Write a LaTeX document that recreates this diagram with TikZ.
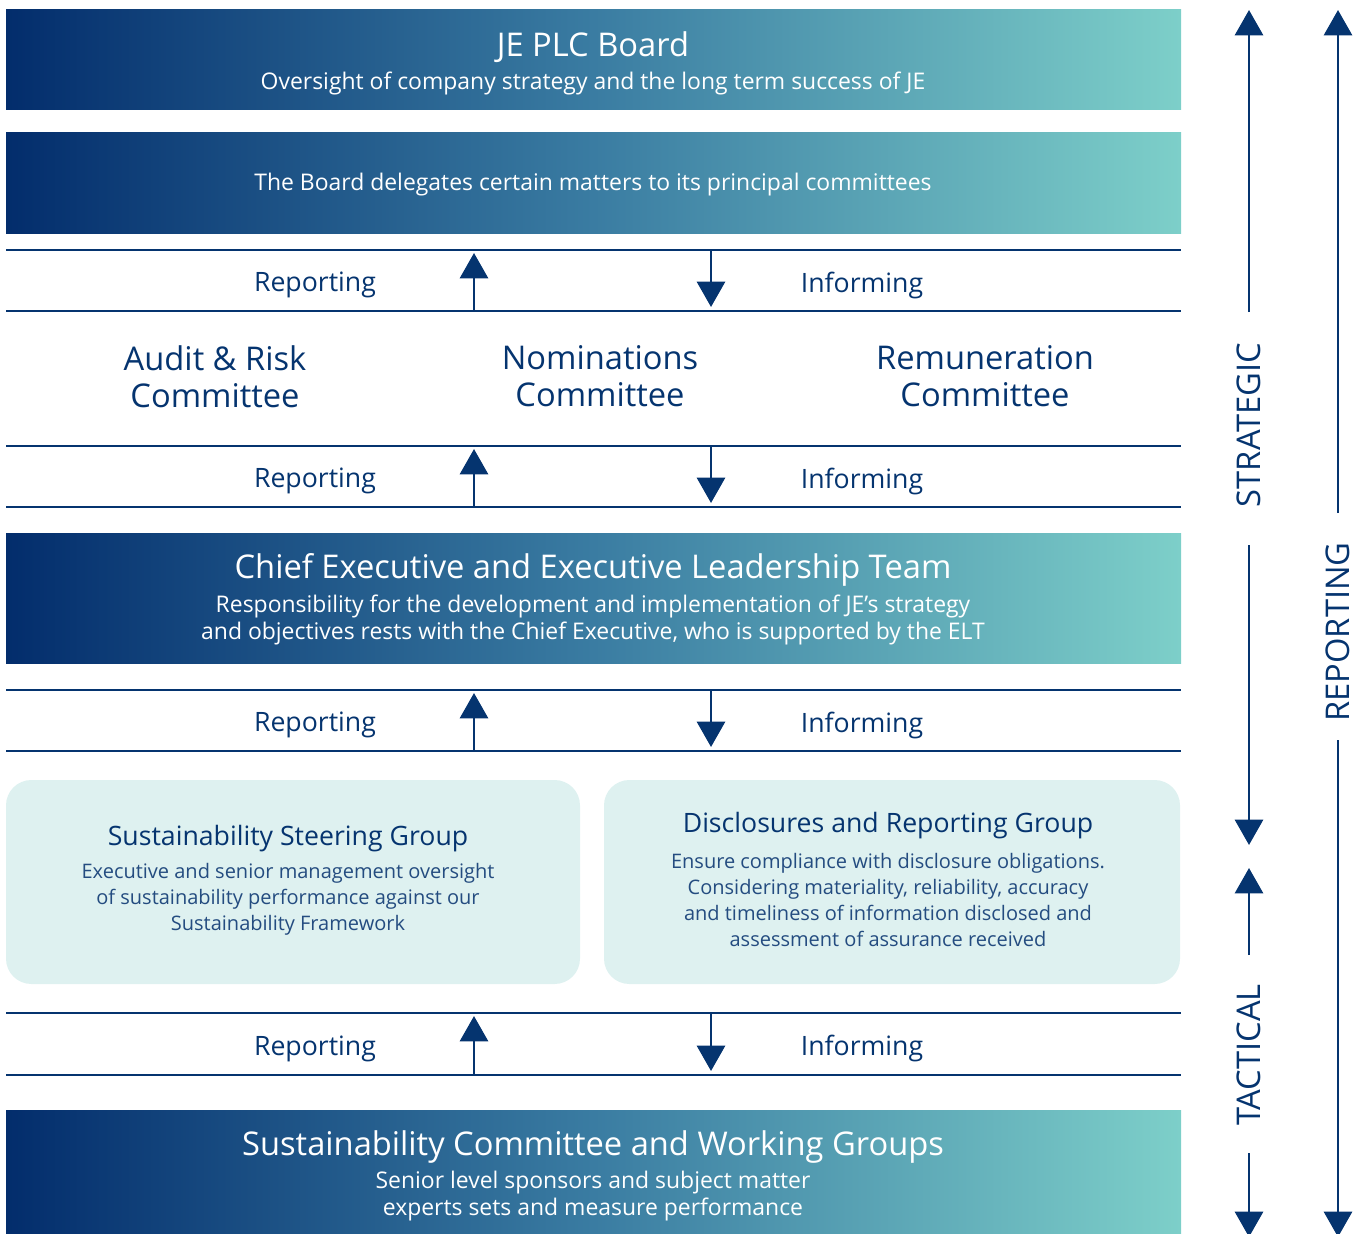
\documentclass[tikz,border=0pt]{standalone}
\usepackage{fontspec}
\setmainfont{Open Sans}
\usetikzlibrary{arrows.meta}
\definecolor{navy}{HTML}{05346F}
\definecolor{gradL}{HTML}{032D6C}
\definecolor{gradM}{HTML}{3A7CA2}
\definecolor{gradR}{HTML}{7DCFC9}
\definecolor{panel}{HTML}{DEF1F0}
\definecolor{bodytxt}{HTML}{244C80}
\begin{document}
\begin{tikzpicture}[x=0.75pt,y=-0.75pt,
  gbox/.style={left color=gradL, right color=gradR, middle color=gradM, draw=none},
  wtitle/.style={text=white, inner sep=0pt, align=center, font=\fontsize{24.5}{28}\selectfont},
  wsub/.style={text=white, inner sep=0pt, align=center, font=\fontsize{17.2}{20.25}\selectfont},
  bandtxt/.style={text=navy, inner sep=0pt, font=\fontsize{20}{24}\selectfont},
  cmte/.style={text=navy, inner sep=0pt, align=center, font=\fontsize{24.5}{27.75}\selectfont},
  ptitle/.style={text=navy, inner sep=0pt, align=center, font=\fontsize{20}{23}\selectfont},
  pbody/.style={text=bodytxt, inner sep=0pt, align=center, font=\fontsize{15}{19.6}\selectfont},
  side/.style={text=navy, inner sep=0pt, rotate=90, font=\fontsize{24.5}{26}\selectfont},
  bandline/.style={draw=navy, line width=2pt},
  arr/.style={draw=navy, line width=2.2pt, -{Triangle[width=21pt,length=19pt]}},
  sarr/.style={draw=navy, line width=2.2pt, -{Triangle[width=21pt,length=19pt]}}
]
\useasboundingbox (0,0) rectangle (1360,1234);

% gradient boxes
\shade[gbox] (6,10) rectangle (1181,110);
\shade[gbox] (6,133) rectangle (1181,233);
\shade[gbox] (6,533) rectangle (1181,663);
\shade[gbox] (6,1110) rectangle (1181,1236);

\node[wtitle] (board) at (593,47) {JE PLC Board};
\node[wsub] (boardsub) at (593,83) {Oversight of company strategy and the long term success of JE};
\node[wsub] (deleg) at (593,185) {The Board delegates certain matters to its principal committees};
\node[wtitle] (ceo) at (593,570) {Chief Executive and Executive Leadership Team};
\node[wsub] (ceosub) at (593,619.5) {Responsibility for the development and implementation of JE’s strategy\\and objectives rests with the Chief Executive, who is supported by the ELT};
\node[wtitle] (scwg) at (593,1147) {Sustainability Committee and Working Groups};
\node[wsub] (scwgsub) at (593,1196.5) {Senior level sponsors and subject matter\\experts sets and measure performance};

% committees
\node[cmte] (audit) at (215,376.5) {Audit \& Risk\\Committee};
\node[cmte] (nom) at (600,376.5) {Nominations\\Committee};
\node[cmte] (rem) at (985,376.5) {Remuneration\\Committee};

% panels
\fill[panel, rounded corners=19pt] (6,780) rectangle (580,984);
\fill[panel, rounded corners=19pt] (604,780) rectangle (1180,984);
\node[ptitle] (ssg) at (288,839) {Sustainability Steering Group};
\node[pbody] (ssgb) at (288,899.5) {Executive and senior management oversight\\of sustainability performance against our\\Sustainability Framework};
\node[ptitle] (drg) at (888,826) {Disclosures and Reporting Group};
\node[pbody] (drgb) at (888,900) {Ensure compliance with disclosure obligations.\\Considering materiality, reliability, accuracy\\and timeliness of information disclosed and\\assessment of assurance received};

% bands
\foreach \i/\t/\b in {1/250/311, 2/446/507, 3/690/751, 4/1013/1075}{
  \draw[bandline] (6,\t) -- (1181,\t);
  \draw[bandline] (6,\b) -- (1181,\b);
  \node[bandtxt] (rep\i) at (315,{(\t+\b)/2+4.5}) {Reporting};
  \node[bandtxt] (inf\i) at (862,{(\t+\b)/2+4.5}) {Informing};
  \coordinate (upS\i) at (474,\b);
  \coordinate (upT\i) at (474,\t+3);
  \coordinate (dnS\i) at (711,\t);
  \coordinate (dnT\i) at (711,\b-4);
  \draw[arr] (upS\i) -- (upT\i);
  \draw[arr] (dnS\i) -- (dnT\i);
}

% side labels and arrows
\node[side] (strat) at (1249,425) {STRATEGIC};
\node[side] (tact) at (1249,1055) {TACTICAL};
\node[side] (repo) at (1338,632) {REPORTING};

\coordinate (a1s) at (1249,312);  \coordinate (a1t) at (1249,10);
\coordinate (a2s) at (1249,545);  \coordinate (a2t) at (1249,845);
\coordinate (a3s) at (1249,955);  \coordinate (a3t) at (1249,868);
\coordinate (a4s) at (1249,1153); \coordinate (a4t) at (1249,1237);
\coordinate (b1s) at (1338,513);  \coordinate (b1t) at (1338,10);
\coordinate (b2s) at (1338,740);  \coordinate (b2t) at (1338,1237);
\draw[sarr] (a1s) -- (a1t);
\draw[sarr] (a2s) -- (a2t);
\draw[sarr] (a3s) -- (a3t);
\draw[sarr] (a4s) -- (a4t);
\draw[sarr] (b1s) -- (b1t);
\draw[sarr] (b2s) -- (b2t);
\end{tikzpicture}
\end{document}
